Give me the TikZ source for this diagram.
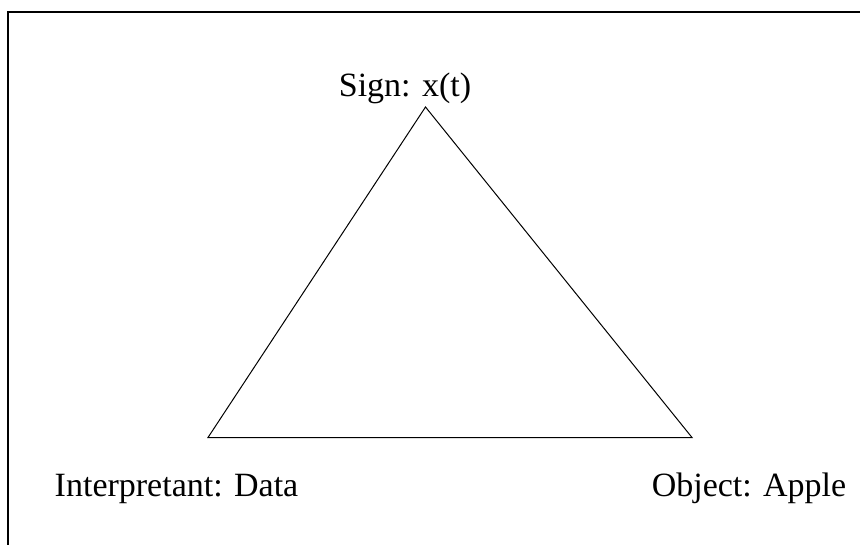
\documentclass[tikz,border=0pt]{standalone}
\usepackage{fontspec}
\setmainfont{Liberation Serif}
\begin{document}
\begin{tikzpicture}[x=1pt,y=-1pt,
  lbl/.style={anchor=base,inner sep=0pt,font=\fontsize{34}{40}\selectfont},
  edge/.style={line width=1pt,black},
  frame/.style={line width=1.2pt,black}]
\useasboundingbox (0,0) rectangle (860,545);
\coordinate (fb) at (8,545);
\coordinate (fc) at (8,12);
\coordinate (fr) at (860,12);
\draw[frame] (fb) -- (fc) -- (fr);
\coordinate (S) at (425.5,107);
\coordinate (I) at (208,437.5);
\coordinate (O) at (692,437.5);
\draw[edge] (S) -- (I) -- (O) -- cycle;
\node[lbl] (sign) at (405,97) {Sign: x(t)};
\node[lbl] (interp) at (176.5,496) {Interpretant: Data};
\node[lbl] (obj) at (749,496) {Object: Apple};
\end{tikzpicture}
\end{document}
